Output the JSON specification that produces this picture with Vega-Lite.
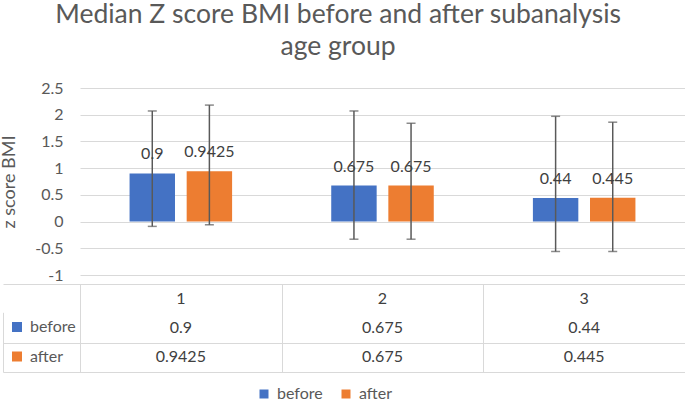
{
  "$schema": "https://vega.github.io/schema/vega-lite/v6.json",
  "padding": {"left": 0, "top": 1, "right": 1, "bottom": 0},
  "config": {
    "font": "Lato",
    "view": {"stroke": null},
    "axis": {"labelFont": "Lato", "titleFont": "Lato"},
    "legend": {"labelFont": "Lato"}
  },
  "title": {
    "text": ["Median Z score BMI before and after subanalysis", "age group"],
    "fontSize": 26.5, "fontWeight": "normal", "color": "#595959", "font": "Lato",
    "anchor": "middle", "frame": "bounds", "lineHeight": 32.6, "offset": 19, "dx": -5
  },
  "data": {"values": [
    {"group": "1", "series": "before", "value": 0.9, "lower": -0.09, "upper": 2.07},
    {"group": "1", "series": "after", "value": 0.9425, "lower": -0.06, "upper": 2.18},
    {"group": "2", "series": "before", "value": 0.675, "lower": -0.33, "upper": 2.07},
    {"group": "2", "series": "after", "value": 0.675, "lower": -0.33, "upper": 1.84},
    {"group": "3", "series": "before", "value": 0.44, "lower": -0.56, "upper": 1.97},
    {"group": "3", "series": "after", "value": 0.445, "lower": -0.56, "upper": 1.86}
  ]},
  "spacing": 0,
  "resolve": {"scale": {"color": "independent", "fill": "independent"}, "legend": {"color": "independent", "fill": "independent"}},
  "vconcat": [
    {
      "width": 605, "height": 187,
      "layer": [
        {
          "mark": {"type": "bar"},
          "encoding": {
            "x": {"field": "group", "type": "nominal", "scale": {"paddingInner": 0, "paddingOuter": 0}, "axis": null},
            "xOffset": {"field": "series", "type": "nominal", "sort": ["before", "after"], "scale": {"domain": ["before", "after"], "paddingInner": 0.2045, "paddingOuter": 0.868}},
            "y": {"field": "value", "type": "quantitative",
              "scale": {"domain": [-1, 2.5], "nice": false, "zero": false},
              "axis": {"values": [-1, -0.5, 0, 0.5, 1, 1.5, 2, 2.5], "labelExpr": "datum.value + ''",
                "title": "z score BMI", "titleFontSize": 18, "titleFontWeight": "normal", "titleColor": "#595959", "titlePadding": 16,
                "labelFontSize": 16, "labelColor": "#595959", "labelPadding": 17, "labelOverlap": false,
                "domain": false, "ticks": false, "grid": true, "gridColor": "#D9D9D9", "gridWidth": 1}},
            "color": {"field": "series", "type": "nominal",
              "scale": {"domain": ["before", "after"], "range": ["#4472C4", "#ED7D31"]},
              "legend": null}
          }
        },
        {
          "mark": {"type": "rule", "color": "#595959", "strokeWidth": 1.5},
          "encoding": {
            "x": {"field": "group", "type": "nominal"},
            "xOffset": {"field": "series", "type": "nominal", "sort": ["before", "after"]},
            "y": {"field": "lower", "type": "quantitative",
              "axis": {"values": [-1, -0.5, 0, 0.5, 1, 1.5, 2, 2.5], "labelExpr": "datum.value + ''",
                "title": "z score BMI", "titleFontSize": 18, "titleFontWeight": "normal", "titleColor": "#595959", "titlePadding": 16,
                "labelFontSize": 16, "labelColor": "#595959", "labelPadding": 17, "labelOverlap": false,
                "domain": false, "ticks": false, "grid": true, "gridColor": "#D9D9D9", "gridWidth": 1}},
            "y2": {"field": "upper"}
          }
        },
        {
          "mark": {"type": "tick", "orient": "horizontal", "color": "#595959", "thickness": 1.5, "size": 9},
          "encoding": {
            "x": {"field": "group", "type": "nominal"},
            "xOffset": {"field": "series", "type": "nominal", "sort": ["before", "after"]},
            "y": {"field": "lower", "type": "quantitative",
              "axis": {"values": [-1, -0.5, 0, 0.5, 1, 1.5, 2, 2.5], "labelExpr": "datum.value + ''",
                "title": "z score BMI", "titleFontSize": 18, "titleFontWeight": "normal", "titleColor": "#595959", "titlePadding": 16,
                "labelFontSize": 16, "labelColor": "#595959", "labelPadding": 17, "labelOverlap": false,
                "domain": false, "ticks": false, "grid": true, "gridColor": "#D9D9D9", "gridWidth": 1}}
          }
        },
        {
          "mark": {"type": "tick", "orient": "horizontal", "color": "#595959", "thickness": 1.5, "size": 9},
          "encoding": {
            "x": {"field": "group", "type": "nominal"},
            "xOffset": {"field": "series", "type": "nominal", "sort": ["before", "after"]},
            "y": {"field": "upper", "type": "quantitative",
              "axis": {"values": [-1, -0.5, 0, 0.5, 1, 1.5, 2, 2.5], "labelExpr": "datum.value + ''",
                "title": "z score BMI", "titleFontSize": 18, "titleFontWeight": "normal", "titleColor": "#595959", "titlePadding": 16,
                "labelFontSize": 16, "labelColor": "#595959", "labelPadding": 17, "labelOverlap": false,
                "domain": false, "ticks": false, "grid": true, "gridColor": "#D9D9D9", "gridWidth": 1}}
          }
        },
        {
          "mark": {"type": "text", "fontSize": 16, "color": "#404040", "baseline": "alphabetic", "dy": -14},
          "encoding": {
            "x": {"field": "group", "type": "nominal"},
            "xOffset": {"field": "series", "type": "nominal", "sort": ["before", "after"]},
            "y": {"field": "value", "type": "quantitative",
              "axis": {"values": [-1, -0.5, 0, 0.5, 1, 1.5, 2, 2.5], "labelExpr": "datum.value + ''",
                "title": "z score BMI", "titleFontSize": 18, "titleFontWeight": "normal", "titleColor": "#595959", "titlePadding": 16,
                "labelFontSize": 16, "labelColor": "#595959", "labelPadding": 17, "labelOverlap": false,
                "domain": false, "ticks": false, "grid": true, "gridColor": "#D9D9D9", "gridWidth": 1}},
            "text": {"field": "value", "type": "nominal"}
          }
        }
      ]
    },
    {
      "width": 605, "height": 88,
      "layer": [
        {
          "mark": {"type": "text", "fontSize": 16, "color": "#404040", "baseline": "middle"},
          "encoding": {
            "x": {"field": "group", "type": "nominal", "scale": {"paddingInner": 0, "paddingOuter": 0},
              "axis": {"orient": "bottom", "title": null, "labels": false, "domain": false, "ticks": true, "tickBand": "extent", "tickSize": -88, "tickColor": "#D9D9D9", "tickWidth": 1, "grid": false}},
            "y": {"field": "series", "type": "nominal", "scale": {"domain": ["hdr", "before", "after"], "paddingInner": 0, "paddingOuter": 0},
              "axis": {"orient": "left", "offset": 77, "title": null, "labels": false, "domain": true, "domainColor": "#D9D9D9", "domainWidth": 1, "domainDash": [0, 28.3, 60, 100],
                "ticks": true, "tickBand": "extent", "tickSize": -682, "tickColor": "#D9D9D9", "tickWidth": 1,
                "tickOpacity": {"condition": {"test": "datum.value === 'hdr'", "value": 0}, "value": 1}, "grid": false}},
            "text": {"field": "value", "type": "nominal"}
          }
        },
        {
          "transform": [{"filter": "datum.series === 'before'"}],
          "mark": {"type": "text", "fontSize": 16, "color": "#404040", "baseline": "middle"},
          "encoding": {
            "x": {"field": "group", "type": "nominal"},
            "y": {"datum": "hdr", "type": "nominal"},
            "text": {"field": "group", "type": "nominal"}
          }
        },
        {
          "mark": {"type": "square", "opacity": 0},
          "encoding": {
            "x": {"field": "group", "type": "nominal"},
            "y": {"field": "series", "type": "nominal"},
            "fill": {"field": "series", "type": "nominal", "sort": ["before", "after"],
              "scale": {"range": ["#4472C4", "#ED7D31"]},
              "legend": {"orient": "none", "legendX": -71, "legendY": 35, "direction": "vertical", "title": null,
                "symbolType": "square", "symbolSize": 100, "symbolStrokeWidth": 0, "symbolOpacity": 1,
                "labelFontSize": 16, "labelColor": "#595959", "labelOffset": 5, "rowPadding": 13.5, "padding": 0}}
          }
        },
        {
          "mark": {"type": "square", "opacity": 0},
          "encoding": {
            "x": {"field": "group", "type": "nominal"},
            "y": {"field": "series", "type": "nominal"},
            "color": {"field": "series", "type": "nominal",
              "scale": {"domain": ["before", "after"], "range": ["#4472C4", "#ED7D31"]},
              "legend": {"orient": "none", "legendX": 176, "legendY": 102, "direction": "horizontal", "title": null,
                "symbolType": "square", "symbolSize": 81, "symbolStrokeWidth": 0, "symbolOpacity": 1,
                "labelFontSize": 16, "labelColor": "#595959", "labelOffset": 5, "columnPadding": 15, "padding": 0}}
          }
        }
      ]
    }
  ]
}
